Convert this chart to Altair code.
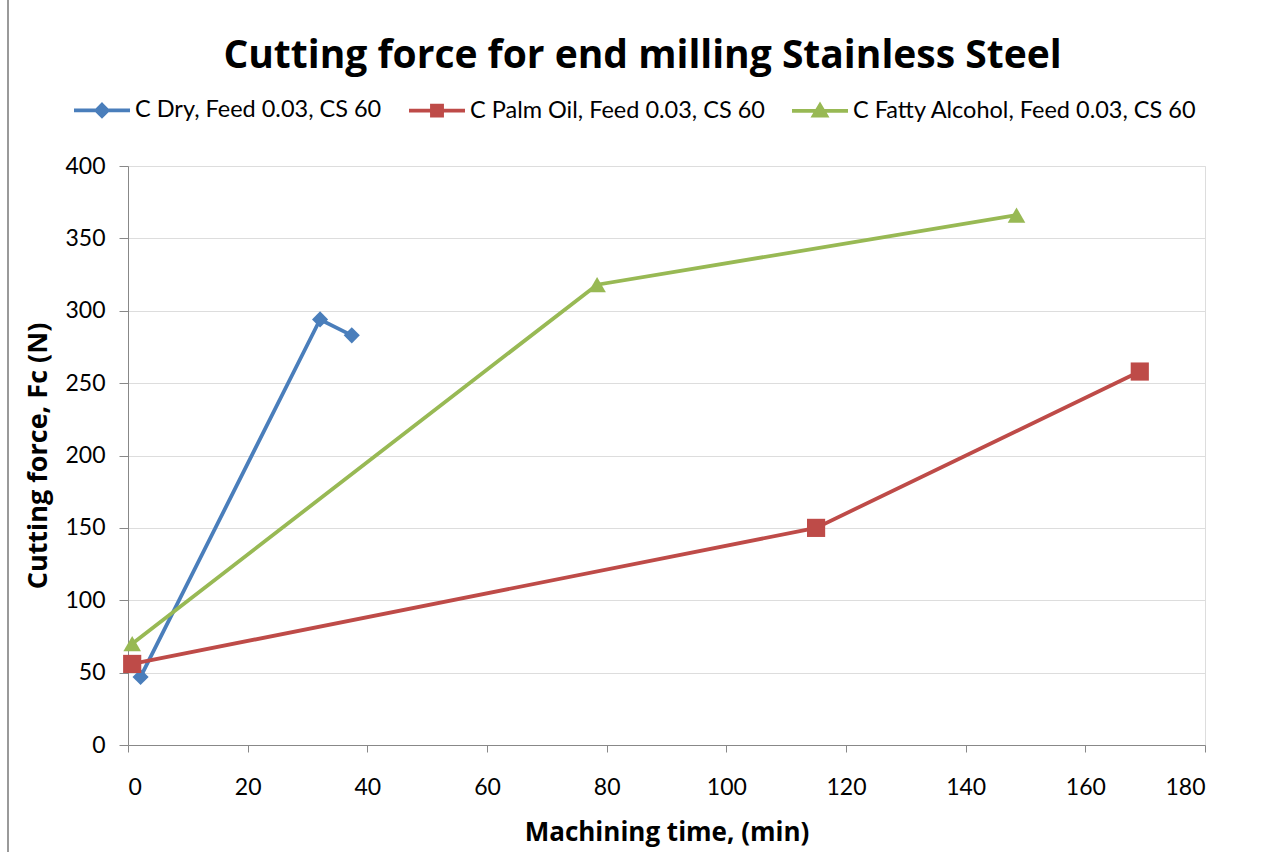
import altair as alt
import pandas as pd

# Series definitions: machining time (min) and cutting force Fc (N)
series_names = [
    "C Dry, Feed 0.03, CS 60",
    "C Palm Oil, Feed 0.03, CS 60",
    "C Fatty Alcohol, Feed 0.03, CS 60",
]
series_colors = ["#4A7EBB", "#BE4B48", "#98B954"]
point_shapes = ["diamond", "square", "triangle-up"]
point_sizes = [260, 330, 310]

dry_time = [2.1, 32.1, 37.4]
dry_force = [47, 294, 283]

palm_time = [0.7, 115.0, 169.1]
palm_force = [56, 150, 258]

fatty_time = [0.7, 78.4, 148.5]
fatty_force = [70, 318, 366]

x_ticks = [0, 20, 40, 60, 80, 100, 120, 140, 160, 180]
y_ticks = [0, 50, 100, 150, 200, 250, 300, 350, 400]

rows = []
for name, ts, fs in zip(series_names, [dry_time, palm_time, fatty_time],
                        [dry_force, palm_force, fatty_force]):
    for i, (t, f) in enumerate(zip(ts, fs)):
        rows.append({"series": name, "time": t, "force": f, "order": i})
df = pd.DataFrame(rows)

# legend glyphs: a line segment with the marker on top of it
legend_paths = [
    "M-1,0L1,0M0,-0.2L0.2,0L0,0.2L-0.2,0Z",
    "M-1,0L1,0M-0.18,-0.18L0.18,-0.18L0.18,0.18L-0.18,0.18Z",
    "M-1,0L1,0M0,-0.2L0.22,0.17L-0.22,0.17Z",
]

FONT = "Lato"
TITLE_FONT = "Open Sans"
GRID = "#8C8C8C"

x_enc = alt.X(
    "time:Q",
    scale=alt.Scale(domain=[0, 180], nice=False, zero=False),
    axis=alt.Axis(
        values=x_ticks, grid=False, title="Machining time, (min)",
        labelFont=FONT, titleFont=TITLE_FONT,
        labelFontSize=23, titleFontSize=26, titleFontWeight="bold",
        labelPadding=24, titlePadding=20, tickSize=7,
    ),
)
y_enc = alt.Y(
    "force:Q",
    scale=alt.Scale(domain=[0, 400], nice=False),
    axis=alt.Axis(
        values=y_ticks, grid=True, title="Cutting force, Fc (N)",
        labelFont=FONT, titleFont=TITLE_FONT,
        labelFontSize=23, titleFontSize=27, titleFontWeight="bold",
        labelPadding=14, titlePadding=12, tickSize=9,
    ),
)

layers = []

# left edge rule of the chart frame
layers.append(
    alt.Chart(df).mark_rule(color="#9A9A9A", strokeWidth=2).encode(
        x=alt.value(-120), y=alt.value(-166), y2=alt.value(700),
    )
)

# one line and one set of markers per series
for name, col, shp, sz in zip(series_names, series_colors, point_shapes, point_sizes):
    base = alt.Chart(df).transform_filter(alt.datum.series == name)
    layers.append(
        base.mark_line(strokeWidth=3.8, color=col).encode(
            x=x_enc, y=y_enc, order="order:Q"
        )
    )
    layers.append(
        base.mark_point(filled=True, opacity=1, color=col, shape=shp, size=sz).encode(
            x="time:Q", y="force:Q"
        )
    )

# legend carrier: no rows drawn, only the legend entries
legend_scale_fill = alt.Scale(domain=series_names, range=series_colors)
layers.append(
    alt.Chart(df).transform_filter("datum.time < -1").mark_point(
        filled=True, opacity=1
    ).encode(
        x="time:Q", y="force:Q",
        fill=alt.Fill("series:N", scale=legend_scale_fill, legend=alt.Legend(title=None)),
        stroke=alt.Stroke("series:N", scale=legend_scale_fill, legend=alt.Legend(title=None)),
        shape=alt.Shape(
            "series:N",
            scale=alt.Scale(domain=series_names, range=legend_paths),
            legend=alt.Legend(
                title=None, orient="none", direction="horizontal",
                legendX=-56, legendY=-86, symbolSize=3136, symbolStrokeWidth=3.8,
                labelFontSize=23.5, labelFont=FONT, labelColor="#000000",
                labelOffset=3, columnPadding=19, labelLimit=500,
            ),
        ),
    )
)

chart = (
    alt.layer(*layers)
    .properties(
        width=1077, height=579,
        padding={"left": 128, "top": 166, "right": 67, "bottom": 107},
        autosize=alt.AutoSizeParams(type="none"),
        title=alt.Title(
            "Cutting force for end milling Stainless Steel",
            fontSize=39, fontWeight="bold", font=TITLE_FONT, color="#000000",
            anchor="middle", dx=-24, offset=-108, baseline="alphabetic",
        ),
    )
    .configure_view(stroke=None)
    .configure_axis(
        labelFont=FONT, titleFont=TITLE_FONT, labelColor="#000000", titleColor="#000000",
        domainColor=GRID, tickColor=GRID, gridColor=GRID,
        domainWidth=1.3, tickWidth=1.3, gridWidth=1.3,
    )
    .configure(background="white")
)

chart.save("out.html", embed_options={"renderer": "svg", "actions": False})
